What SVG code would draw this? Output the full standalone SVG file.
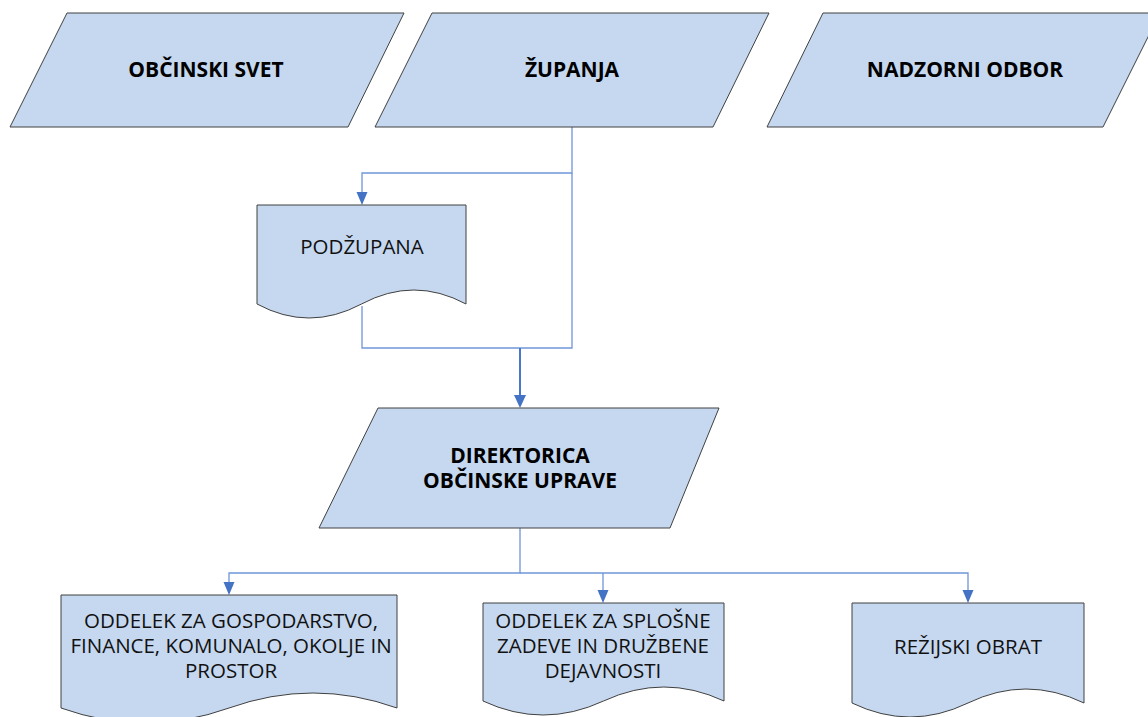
<svg xmlns="http://www.w3.org/2000/svg" width="1148" height="717" viewBox="0 0 1148 717">
<style>
.shape{fill:#C5D8EF;stroke:#404040;stroke-width:1}
.b{font-family:"Open Sans","Noto Sans",sans-serif;font-weight:bold;font-size:21px;fill:#000;text-anchor:middle}
.r{font-family:"Open Sans","Noto Sans",sans-serif;font-size:20.5px;fill:#111;text-anchor:middle}
.c{fill:none;stroke:#6F96D8;stroke-width:1.3}
</style>
<rect width="1148" height="717" fill="#fff"/>
<g id="connectors">
<path class="c" d="M572 127 V173 H362 V193"/>
<path class="c" d="M572 173 V348 H520"/>
<path class="c" d="M362 306 V348 H520"/>
<path class="c" d="M520 348 V396" style="stroke:#4A78C8;stroke-width:2"/>
<path class="c" d="M520 528 V573 H229 V583"/>
<path class="c" d="M520 573 H968 V591"/>
<path class="c" d="M603 573 V591"/>
<path d="M356.5 192 H367.5 L362 205 Z" fill="#4472C4"/>
<path d="M514 395 H526 L520 408 Z" fill="#4472C4"/>
<path d="M223.5 582 H234.5 L229 595 Z" fill="#4472C4"/>
<path d="M597.5 590 H608.5 L603 603 Z" fill="#4472C4"/>
<path d="M962.5 590 H973.5 L968 603 Z" fill="#4472C4"/>
</g>
<g id="obcinski-svet">
<path class="shape" d="M67 13 H404 L348 127 H10 Z"/>
<text class="b" x="206" y="77">OBČINSKI SVET</text>
</g>
<g id="zupanja">
<path class="shape" d="M432 13 H769 L713 127 H375 Z"/>
<text class="b" x="572" y="77">ŽUPANJA</text>
</g>
<g id="nadzorni-odbor">
<path class="shape" d="M823 13 H1160 L1103 127 H767 Z"/>
<text class="b" x="965" y="77">NADZORNI ODBOR</text>
</g>
<g id="podzupana">
<path class="shape" d="M257 205 H466 V304 Q414 276 361.5 304 T257 304 Z"/>
<text class="r" x="362" y="254">PODŽUPANA</text>
</g>
<g id="direktorica">
<path class="shape" d="M378 408 H719 L670 528 H319 Z"/>
<text class="b" x="520" y="463">DIREKTORICA</text>
<text class="b" x="520" y="488">OBČINSKE UPRAVE</text>
</g>
<g id="oddelek-gospodarstvo">
<path class="shape" d="M61 595 H397 V708 Q313 678 229 708 T61 708 Z"/>
<text class="r" x="231" y="628">ODDELEK ZA GOSPODARSTVO,</text>
<text class="r" x="231" y="653">FINANCE, KOMUNALO, OKOLJE IN</text>
<text class="r" x="231" y="678">PROSTOR</text>
</g>
<g id="oddelek-splosne">
<path class="shape" d="M483 603 H724 V701 Q664 673 603.5 701 T483 701 Z"/>
<text class="r" x="603" y="628">ODDELEK ZA SPLOŠNE</text>
<text class="r" x="603" y="653">ZADEVE IN DRUŽBENE</text>
<text class="r" x="603" y="678">DEJAVNOSTI</text>
</g>
<g id="rezijski-obrat">
<path class="shape" d="M852 603 H1084 V703 Q1026 675 968 703 T852 703 Z"/>
<text class="r" x="968" y="654">REŽIJSKI OBRAT</text>
</g>
</svg>
